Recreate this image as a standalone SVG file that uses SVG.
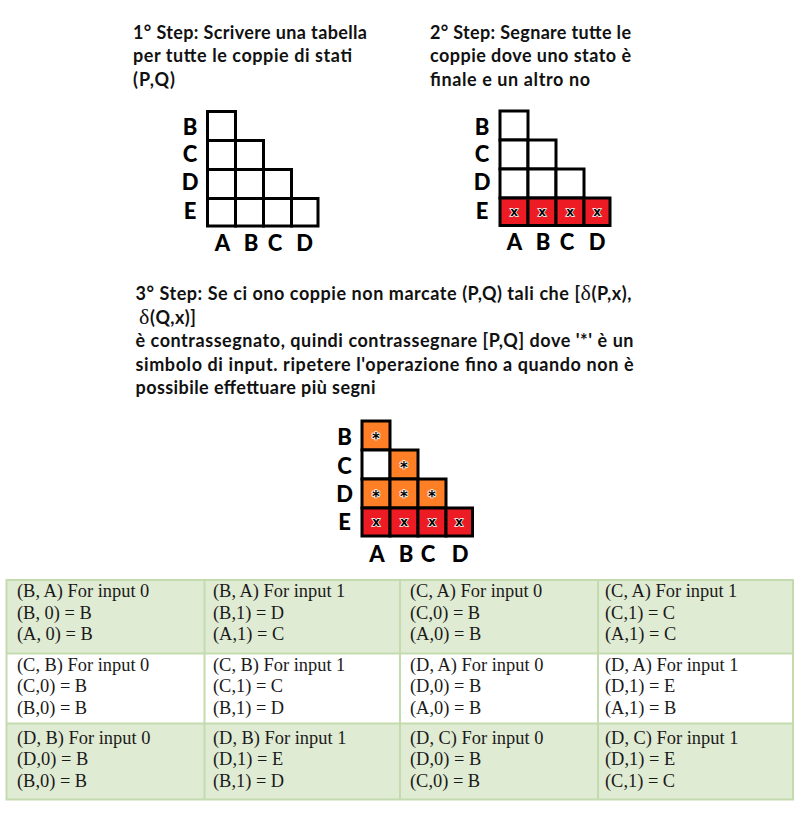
<svg xmlns="http://www.w3.org/2000/svg" width="802" height="816" viewBox="0 0 802 816">
<style>
.t{font-family:Lato,"Open Sans","Liberation Sans",sans-serif;font-weight:bold;font-size:18px;fill:#111}
.lb{font-family:Lato,"Open Sans","Liberation Sans",sans-serif;font-weight:900;font-size:22px;fill:#000}
.cell{stroke:#000;stroke-width:3;fill:#fff}
.red{fill:#ed1c24}
.org{fill:#ff7f27}
.mk{font-family:"DejaVu Sans",sans-serif;font-weight:bold;font-size:12px;fill:#000;stroke:#fff;stroke-width:1.5;paint-order:stroke;text-anchor:middle}
.st{font-family:"DejaVu Sans",sans-serif;font-weight:bold;font-size:15px;fill:#000;stroke:#fff;stroke-width:1.5;paint-order:stroke;text-anchor:middle}
.dl{font-family:"Liberation Serif",serif;font-weight:normal;font-size:22px}
.tb{font-family:"Liberation Serif","Times New Roman",serif;font-size:18.4px;fill:#1a1a1a}
.g{fill:#e0ebd3}
.w{fill:#fff}
.bd{stroke:#c3dbaf;stroke-width:2;fill:none}
</style>
<rect width="802" height="816" fill="#fff"/>

<g id="step1">
<text class="t" x="133" y="38.5" textLength="234" lengthAdjust="spacing">1° Step: Scrivere una tabella</text>
<text class="t" x="133" y="62" textLength="219" lengthAdjust="spacing">per tutte le coppie di stati</text>
<text class="t" x="133" y="85.5" textLength="42" lengthAdjust="spacing">(P,Q)</text>
<g id="grid1">
<rect class="cell" x="207.5" y="111.5" width="28" height="29"/>
<rect class="cell" x="207.5" y="140.5" width="28" height="29"/>
<rect class="cell" x="235.5" y="140.5" width="28" height="29"/>
<rect class="cell" x="207.5" y="169.5" width="28" height="29"/>
<rect class="cell" x="235.5" y="169.5" width="28" height="29"/>
<rect class="cell" x="263.5" y="169.5" width="28" height="29"/>
<rect class="cell" x="207.5" y="198.5" width="28" height="27.5"/>
<rect class="cell" x="235.5" y="198.5" width="28" height="27.5"/>
<rect class="cell" x="263.5" y="198.5" width="28" height="27.5"/>
<rect class="cell" x="291.5" y="198.5" width="26.5" height="27.5"/>
</g>
<g class="lb" text-anchor="middle">
<text x="190" y="135">B</text>
<text x="190" y="162">C</text>
<text x="190" y="190">D</text>
<text x="190" y="219">E</text>
<text x="222.5" y="250.5">A</text>
<text x="251" y="250.5">B</text>
<text x="275" y="250.5">C</text>
<text x="304.5" y="250.5">D</text>
</g>
</g>

<g id="step2">
<text class="t" x="430" y="38.5" textLength="201" lengthAdjust="spacing">2° Step: Segnare tutte le</text>
<text class="t" x="430" y="62" textLength="201" lengthAdjust="spacing">coppie dove uno stato è</text>
<text class="t" x="430" y="85.5" textLength="160" lengthAdjust="spacing">finale e un altro no</text>
<g id="grid2">
<rect class="cell" x="500" y="111" width="28" height="29"/>
<rect class="cell" x="500" y="140" width="28" height="29"/>
<rect class="cell" x="528" y="140" width="28" height="29"/>
<rect class="cell" x="500" y="169" width="28" height="29"/>
<rect class="cell" x="528" y="169" width="28" height="29"/>
<rect class="cell" x="556" y="169" width="28" height="29"/>
<rect class="cell red" x="500" y="198" width="28" height="27.5"/>
<rect class="cell red" x="528" y="198" width="28" height="27.5"/>
<rect class="cell red" x="556" y="198" width="28" height="27.5"/>
<rect class="cell red" x="584" y="198" width="26" height="27.5"/>
<text class="mk" x="514" y="216">x</text>
<text class="mk" x="542" y="216">x</text>
<text class="mk" x="570" y="216">x</text>
<text class="mk" x="597" y="216">x</text>
</g>
<g class="lb" text-anchor="middle">
<text x="482" y="134.5">B</text>
<text x="482" y="161.5">C</text>
<text x="482" y="189.5">D</text>
<text x="482" y="218.5">E</text>
<text x="514.5" y="250">A</text>
<text x="543" y="250">B</text>
<text x="567" y="250">C</text>
<text x="597" y="250">D</text>
</g>
</g>

<g id="step3">
<text class="t" x="135.5" y="299.5" textLength="496" lengthAdjust="spacing">3° Step: Se ci ono coppie non marcate (P,Q) tali che [<tspan class="dl">δ</tspan>(P,x),</text>
<text class="t" x="139" y="323.5" textLength="57" lengthAdjust="spacing"><tspan class="dl">δ</tspan>(Q,x)]</text>
<text class="t" x="135.5" y="347" textLength="498" lengthAdjust="spacing">è contrassegnato, quindi contrassegnare [P,Q] dove '*' è un</text>
<text class="t" x="135.5" y="371" textLength="498" lengthAdjust="spacing">simbolo di input. ripetere l'operazione fino a quando non è</text>
<text class="t" x="135.5" y="394" textLength="240" lengthAdjust="spacing">possibile effettuare più segni</text>
<g id="grid3">
<rect class="cell org" x="362" y="421" width="28" height="29"/>
<rect class="cell" x="362" y="450" width="28" height="29"/>
<rect class="cell org" x="390" y="450" width="28" height="29"/>
<rect class="cell org" x="362" y="479" width="28" height="29"/>
<rect class="cell org" x="390" y="479" width="28" height="29"/>
<rect class="cell org" x="418" y="479" width="28" height="29"/>
<rect class="cell red" x="362" y="508" width="28" height="28"/>
<rect class="cell red" x="390" y="508" width="28" height="28"/>
<rect class="cell red" x="418" y="508" width="28" height="28"/>
<rect class="cell red" x="446" y="508" width="26.5" height="28"/>
<text class="st" x="376" y="444">*</text>
<text class="st" x="404" y="473">*</text>
<text class="st" x="376" y="502">*</text>
<text class="st" x="404" y="502">*</text>
<text class="st" x="432" y="502">*</text>
<text class="mk" x="376" y="526">x</text>
<text class="mk" x="404" y="526">x</text>
<text class="mk" x="432" y="526">x</text>
<text class="mk" x="459" y="526">x</text>
</g>
<g class="lb" text-anchor="middle">
<text x="344.5" y="444.5">B</text>
<text x="344.5" y="473.5">C</text>
<text x="344.5" y="502">D</text>
<text x="344.5" y="530">E</text>
<text x="377" y="561.5">A</text>
<text x="406" y="561.5">B</text>
<text x="428" y="561.5">C</text>
<text x="460" y="561.5">D</text>
</g>
</g>

<g id="table">
<rect class="g" x="6.5" y="580" width="786.5" height="73.5"/>
<rect class="w" x="6.5" y="653.5" width="786.5" height="70"/>
<rect class="g" x="6.5" y="723.5" width="786.5" height="76"/>
<g class="bd">
<rect x="6.5" y="580" width="786.5" height="219.5"/>
<line x1="6.5" y1="653.5" x2="793" y2="653.5"/>
<line x1="6.5" y1="723.5" x2="793" y2="723.5"/>
<line x1="204.5" y1="580" x2="204.5" y2="799.5"/>
<line x1="400" y1="580" x2="400" y2="799.5"/>
<line x1="598" y1="580" x2="598" y2="799.5"/>
</g>
<g class="tb">
<text x="17" y="597">(B, A) For input 0</text>
<text x="17" y="618.5">(B, 0) = B</text>
<text x="17" y="640">(A, 0) = B</text>
<text x="213" y="597">(B, A) For input 1</text>
<text x="213" y="618.5">(B,1) = D</text>
<text x="213" y="640">(A,1) = C</text>
<text x="410" y="597">(C, A) For input 0</text>
<text x="410" y="618.5">(C,0) = B</text>
<text x="410" y="640">(A,0) = B</text>
<text x="605" y="597">(C, A) For input 1</text>
<text x="605" y="618.5">(C,1) = C</text>
<text x="605" y="640">(A,1) = C</text>

<text x="17" y="671">(C, B) For input 0</text>
<text x="17" y="692">(C,0) = B</text>
<text x="17" y="713.5">(B,0) = B</text>
<text x="213" y="671">(C, B) For input 1</text>
<text x="213" y="692">(C,1) = C</text>
<text x="213" y="713.5">(B,1) = D</text>
<text x="410" y="671">(D, A) For input 0</text>
<text x="410" y="692">(D,0) = B</text>
<text x="410" y="713.5">(A,0) = B</text>
<text x="605" y="671">(D, A) For input 1</text>
<text x="605" y="692">(D,1) = E</text>
<text x="605" y="713.5">(A,1) = B</text>

<text x="17" y="743.5">(D, B) For input 0</text>
<text x="17" y="765">(D,0) = B</text>
<text x="17" y="786.5">(B,0) = B</text>
<text x="213" y="743.5">(D, B) For input 1</text>
<text x="213" y="765">(D,1) = E</text>
<text x="213" y="786.5">(B,1) = D</text>
<text x="410" y="743.5">(D, C) For input 0</text>
<text x="410" y="765">(D,0) = B</text>
<text x="410" y="786.5">(C,0) = B</text>
<text x="605" y="743.5">(D, C) For input 1</text>
<text x="605" y="765">(D,1) = E</text>
<text x="605" y="786.5">(C,1) = C</text>
</g>
</g>
</svg>
